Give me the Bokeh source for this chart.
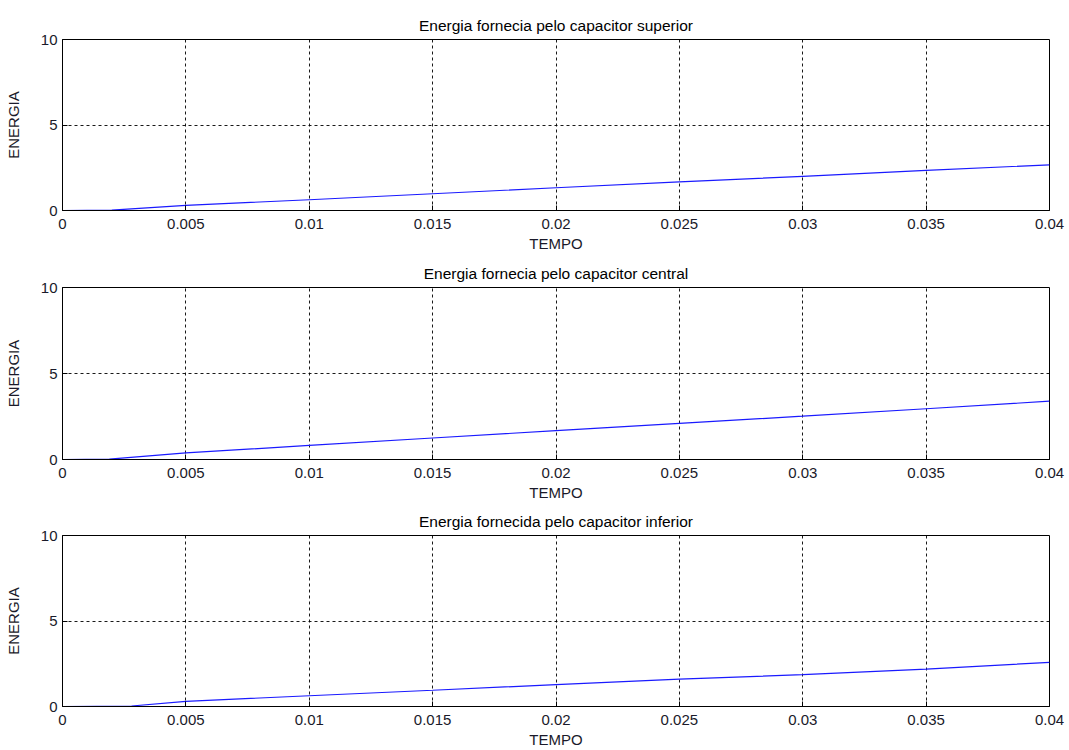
from bokeh.plotting import figure
from bokeh.layouts import column
from bokeh.models import FixedTicker, Range1d
from bokeh.embed import file_html
from bokeh.resources import INLINE

# ---- data ----
titles = [
    "Energia fornecia pelo capacitor superior",
    "Energia fornecia pelo capacitor central",
    "Energia fornecida pelo capacitor inferior",
]
t1 = [0, 0.002, 0.005, 0.01, 0.015, 0.02, 0.025, 0.03, 0.035, 0.04]
e1 = [0, 0.02, 0.30, 0.63, 0.98, 1.33, 1.67, 2.00, 2.35, 2.67]
t2 = [0, 0.0019, 0.005, 0.01, 0.015, 0.02, 0.025, 0.03, 0.035, 0.04]
e2 = [0, 0.02, 0.38, 0.82, 1.25, 1.68, 2.10, 2.52, 2.95, 3.39]
t3 = [0, 0.0028, 0.005, 0.01, 0.015, 0.02, 0.025, 0.03, 0.035, 0.04]
e3 = [0, 0.03, 0.30, 0.63, 0.95, 1.28, 1.60, 1.86, 2.19, 2.58]
x_ticks = [0, 0.005, 0.01, 0.015, 0.02, 0.025, 0.03, 0.035, 0.04]
x_tick_labels = ["0", "0.005", "0.01", "0.015", "0.02", "0.025", "0.03", "0.035", "0.04"]
y_ticks = [0, 5, 10]
x_label = "TEMPO"
y_label = "ENERGIA"

series = [(t1, e1), (t2, e2), (t3, e3)]
heights = [254, 249, 247]
tops = [39, 33, 32]
bottoms = [44, 44, 44]

FONT = "Liberation Sans"
figs = []
for i, ((t, e), title) in enumerate(zip(series, titles)):
    p = figure(width=1069, height=heights[i], output_backend="svg",
               toolbar_location=None, title=title,
               x_range=Range1d(0, 0.04), y_range=Range1d(0, 10),
               min_border_left=62, min_border_right=20,
               min_border_top=tops[i], min_border_bottom=bottoms[i])
    p.title.text_font = FONT
    p.title.text_font_size = "15.5px"
    p.title.text_font_style = "normal"
    p.title.align = "center"
    p.title.text_color = "black"
    p.title.standoff = 11
    p.line(t, e, line_color="#1a1aff", line_width=1.2)

    p.xaxis.ticker = FixedTicker(ticks=x_ticks)
    p.xaxis.major_label_overrides = {tk: lb for tk, lb in zip(x_ticks, x_tick_labels)}
    p.yaxis.ticker = FixedTicker(ticks=y_ticks)
    p.xaxis.axis_label = x_label
    p.yaxis.axis_label = y_label
    for ax in (p.xaxis[0], p.yaxis[0]):
        ax.major_tick_in = 5
        ax.major_tick_out = 0
        ax.minor_tick_in = 0
        ax.minor_tick_out = 0
        ax.axis_line_color = "black"
        ax.major_tick_line_color = "black"
        ax.major_label_text_font = FONT
        ax.major_label_text_font_size = "15px"
        ax.major_label_text_color = "#1a1a2a"
        ax.axis_label_text_font = FONT
        ax.axis_label_text_font_size = "15px"
        ax.axis_label_text_font_style = "normal"
        ax.axis_label_text_color = "#1a1a2a"
    p.xaxis.major_label_standoff = 8
    p.xaxis.axis_label_standoff = 3
    p.yaxis.major_label_standoff = 5
    p.yaxis.axis_label_standoff = 16

    p.grid.grid_line_color = "black"
    p.grid.grid_line_dash = "3 3"
    p.grid.grid_line_alpha = 0.9
    p.outline_line_color = "black"
    p.outline_line_alpha = 1
    p.background_fill_color = "white"
    p.border_fill_color = "white"
    figs.append(p)

layout = column(*figs, spacing=0)
open("out.html", "w").write(file_html(layout, INLINE))
